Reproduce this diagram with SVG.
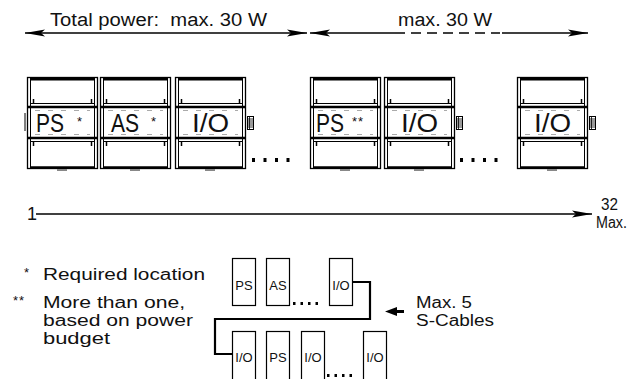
<svg xmlns="http://www.w3.org/2000/svg" xmlns:xlink="http://www.w3.org/1999/xlink" width="634" height="379" viewBox="0 0 634 379">
<style>
text{font-family:"Liberation Sans",Arial,sans-serif;fill:#111}
.big{font-size:26px}
.mid{font-size:18px}
.leg{font-size:16px}
.sm{font-size:13px}
.ast{font-size:13px}
.ln{fill:none;stroke:#000}
.box{fill:#fff;stroke:#000;stroke-width:1.2}
</style>
<defs>
<marker id="ah" viewBox="0 -4 20 8" refX="20" refY="0" markerWidth="20" markerHeight="8" markerUnits="userSpaceOnUse" orient="auto-start-reverse">
<path d="M20 0L0 -3.6L4 0L0 3.6Z" fill="#000"/>
</marker>
<g id="mod">
<rect x="0.5" y="77.5" width="70" height="91" fill="#fff" stroke="#000" stroke-width="1.3"/>
<path class="ln" d="M3.5 78V168M67.5 78V168" stroke-width="1"/>
<path class="ln" d="M3 79.2H68" stroke-width="2.4"/>
<path class="ln" d="M3.5 103.5H67.5M3.5 141.5H67.5" stroke-width="1"/>
<path class="ln" d="M0 107H71M0 138H71" stroke-width="2.6"/>
<path class="ln" d="M3 167.3H68" stroke-width="2"/>
<path class="ln" d="M6.5 99V103M64.5 99V103M6.5 142V146M64.5 142V146" stroke-width="1.5"/>
<path d="M8 110.5H63M8 134.5H63" fill="none" stroke="#aaa" stroke-width="1.2" stroke-dasharray="5 8"/>
<rect x="30" y="169" width="10" height="2" fill="#888"/>
</g>
<g id="nub">
<rect x="0.5" y="116.5" width="6" height="13" fill="#fff" stroke="#000" stroke-width="1"/>
<path class="ln" d="M0 119H7M0 121H7M0 123H7M0 125H7M0 127H7M2.5 117V129" stroke-width="0.8"/>
</g>
<g id="dots">
<rect x="0" y="158" width="3" height="4" fill="#000"/>
<rect x="11.5" y="158" width="3" height="4" fill="#000"/>
<rect x="23" y="158" width="3" height="4" fill="#000"/>
<rect x="34.5" y="158" width="3" height="4" fill="#000"/>
</g>
<g id="sdots">
<rect x="0" y="0" width="2.5" height="3" fill="#000"/>
<rect x="7.5" y="0" width="2.5" height="3" fill="#000"/>
<rect x="15" y="0" width="2.5" height="3" fill="#000"/>
<rect x="22.5" y="0" width="2.5" height="3" fill="#000"/>
</g>
</defs>

<g id="labels-top">
<text class="mid" x="50" y="26" xml:space="preserve" textLength="217" lengthAdjust="spacingAndGlyphs">Total power:  max. 30 W</text>
<text class="mid" x="398" y="26" textLength="94" lengthAdjust="spacingAndGlyphs">max. 30 W</text>
</g>

<g id="m1-ps">
<use xlink:href="#mod" x="27"/>
<path class="ln" d="M25 113V131" stroke="#777" stroke-width="1"/>
<text class="big" x="36" y="132" textLength="28" lengthAdjust="spacingAndGlyphs">PS</text>
<text class="ast" x="77" y="126">*</text>
</g>
<g id="m2-as">
<use xlink:href="#mod" x="100"/>
<text class="big" x="111" y="132" textLength="28" lengthAdjust="spacingAndGlyphs">AS</text>
<text class="ast" x="151" y="126">*</text>
</g>
<g id="m3-io">
<use xlink:href="#mod" x="175"/>
<use xlink:href="#nub" x="247"/>
<text class="big" x="192" y="132" textLength="37" lengthAdjust="spacingAndGlyphs">I/O</text>
<use xlink:href="#dots" x="252"/>
</g>
<g id="m4-ps">
<use xlink:href="#mod" x="310"/>
<text class="big" x="316" y="132" textLength="28" lengthAdjust="spacingAndGlyphs">PS</text>
<text class="ast" x="352" y="126" letter-spacing="1">**</text>
</g>
<g id="m5-io">
<use xlink:href="#mod" x="384"/>
<use xlink:href="#nub" x="456"/>
<text class="big" x="401" y="132" textLength="37" lengthAdjust="spacingAndGlyphs">I/O</text>
<use xlink:href="#dots" x="460"/>
</g>
<g id="m6-io">
<use xlink:href="#mod" x="517"/>
<use xlink:href="#nub" x="589"/>
<text class="big" x="534" y="132" textLength="37" lengthAdjust="spacingAndGlyphs">I/O</text>
</g>

<g id="scale-labels">
<text class="mid" x="27" y="220">1</text>
<text class="leg" x="601" y="210" textLength="17" lengthAdjust="spacingAndGlyphs">32</text>
<text class="leg" x="596" y="228" textLength="31" lengthAdjust="spacingAndGlyphs">Max.</text>
</g>

<g id="legend">
<text class="ast" x="24" y="277">*</text>
<text class="leg" x="43" y="280" textLength="162" lengthAdjust="spacingAndGlyphs">Required location</text>
<text class="ast" x="13" y="305" letter-spacing="1">**</text>
<text class="leg" x="43" y="308" textLength="142" lengthAdjust="spacingAndGlyphs">More than one,</text>
<text class="leg" x="43" y="326" textLength="150" lengthAdjust="spacingAndGlyphs">based on power</text>
<text class="leg" x="43" y="344" textLength="67" lengthAdjust="spacingAndGlyphs">budget</text>
</g>

<g id="s-ps1"><rect class="box" x="232.5" y="258.5" width="23" height="47"/><text class="sm" x="244" y="290" text-anchor="middle">PS</text></g>
<g id="s-as"><rect class="box" x="266.5" y="258.5" width="23" height="47"/><text class="sm" x="278" y="290" text-anchor="middle">AS</text></g>
<g id="s-io1"><rect class="box" x="329.5" y="258.5" width="23" height="47"/><text class="sm" x="341" y="290" text-anchor="middle">I/O</text></g>
<use xlink:href="#sdots" x="293" y="302"/>
<g id="s-io2"><rect class="box" x="232.5" y="331.5" width="23" height="60"/><text class="sm" x="244" y="362" text-anchor="middle">I/O</text></g>
<g id="s-ps2"><rect class="box" x="266.5" y="331.5" width="23" height="60"/><text class="sm" x="278" y="362" text-anchor="middle">PS</text></g>
<g id="s-io3"><rect class="box" x="301.5" y="331.5" width="23" height="60"/><text class="sm" x="313" y="362" text-anchor="middle">I/O</text></g>
<g id="s-io4"><rect class="box" x="363.5" y="331.5" width="23" height="60"/><text class="sm" x="375" y="362" text-anchor="middle">I/O</text></g>
<use xlink:href="#sdots" x="327" y="374"/>

<g id="cable-label">
<text class="leg" x="416" y="308" textLength="56" lengthAdjust="spacingAndGlyphs">Max. 5</text>
<text class="leg" x="416" y="326" textLength="78" lengthAdjust="spacingAndGlyphs">S-Cables</text>
</g>

<g id="connectors">
<path class="ln" d="M25 33H307" stroke-width="1.3" marker-start="url(#ah)" marker-end="url(#ah)"/>
<path class="ln" d="M310 33H395" stroke-width="1.3" marker-start="url(#ah)"/>
<path class="ln" d="M395 33H500" stroke-width="1.3" stroke-dasharray="10 6"/>
<path class="ln" d="M502 33H588" stroke-width="1.3" marker-end="url(#ah)"/>
<path class="ln" d="M36 214H592" stroke-width="1.3" marker-end="url(#ah)"/>
<path class="ln" d="M353 282H370V319H215V354H232" stroke-width="2.2"/>
<path class="ln" d="M394 311.5H404" stroke-width="3"/>
<path d="M385 311.5L397 307V316Z" fill="#000"/>
</g>
</svg>
